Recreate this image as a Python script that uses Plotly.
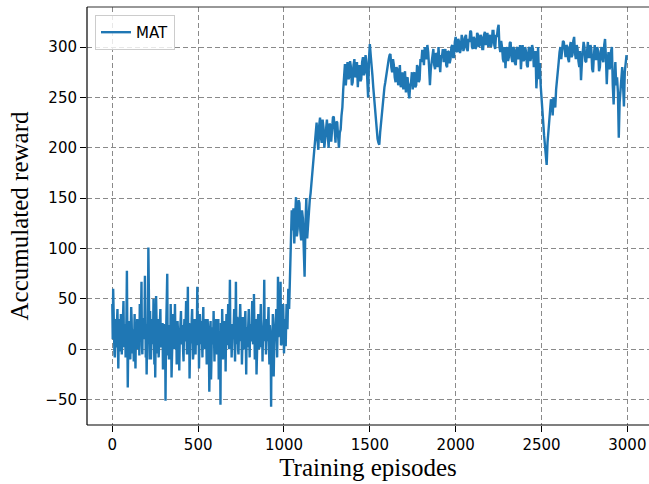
import plotly.graph_objects as go

# Early phase: readings every 5 episodes plus in-between readings (offset 2.5)
episodes_early = list(range(0, 1050, 5))
episodes_early_mid = [e + 2.5 for e in episodes_early]
# Later phase: readings every 5 episodes
episodes_late = list(range(1050, 3000, 5))

reward_early = [
    45, 60, 12, -8, 30, 5, 40, -19, 22, 8,
    35, -5, 18, 48, 2, 25, 10, 78, -38, 15,
    28, -10, 42, 6, 20, -12, 35, -19, 12, 30,
    0, 22, 45, 8, 67, -5, 30, 15, 73, -8,
    -25, 18, 101, 10, 38, -10, 25, 5, 50, -15,
    -28, 53, 10, 30, -8, 20, 40, 2, 15, -20,
    25, 10, -51, 32, 75, 5, -10, 20, 45, -28,
    12, 35, 0, 45, 18, -15, 28, 8, -21, 20,
    38, 5, 22, -12, 30, 10, 48, -5, 62, 15,
    -29, 25, 8, 40, -10, 18, 30, -5, 12, 62,
    20, -19, 35, 5, 28, -8, 42, 12, 0, 25,
    -15, 30, 10, -42, 18, -30, 22, 5, 38, -12,
    15, 30, -5, 25, -30, 10, -55, 20, 40, -10,
    28, 5, -22, 35, 12, 45, 0, 69, 18, -8,
    25, 10, 40, -12, 67, 5, 30, -5, 20, 45,
    8, -15, 32, 15, 0, 38, -25, 22, 10, 40,
    -8, 25, 12, 48, 5, 55, -10, 30, -25, 18,
    35, 0, 22, 45, 10, -12, 28, 69, 15, -5,
    30, 8, 42, -15, 20, -57, 10, 35, -27, 25,
    12, 40, -8, 72, 18, 30, 67, 5, 22, 45,
    -4, 30, 3, 45, 20, 60, 40, 85, 110, 138,
]

reward_early_mid = [
    10, 25, -5, 18, 2, 28, 8, 15, 30, -2,
    20, 5, 28, 10, 22, -8, 32, 12, 0, 24,
    6, 18, 30, -4, 14, 26, 2, 20, 8, 16,
    28, -6, 12, 24, 4, 30, 10, 20, -2, 18,
    8, 26, 14, -10, 22, 6, 30, 16, 2, 24,
    12, 28, -4, 20, 10, 32, 4, 18, 26, 0,
    14, 22, 8, 30, -6, 16, 24, 2, 20, 10,
    28, 4, 18, 12, 26, -8, 22, 14, 6, 30,
    10, 24, -2, 18, 8, 28, 14, 20, 2, 26,
    16, 6, 30, 12, -4, 22, 10, 24, 18, 4,
    28, 8, 20, 14, -6, 26, 2, 18, 30, 10,
    12, 22, 4, 16, 28, -10, 18, 8, 24, 14,
    2, 20, 10, 30, 6, 18, 26, -2, 14, 22,
    8, 28, 16, 4, 24, 12, 30, 10, 20, 2,
    18, 26, 6, 22, 14, 32, 0, 16, 28, 8,
    20, 4, 24, 12, 28, 10, 18, 2, 26, 14,
    22, 8, 30, 16, 6, 24, 12, 20, 4, 28,
    10, 18, 26, 2, 22, 14, 30, 8, 20, 12,
    16, 28, 4, 24, 10, 18, 6, 26, 14, 22,
    30, 8, 20, 12, 28, 16, 4, 24, 10, 26,
    12, 18, 25, 35, 40, 50, 62, 95, 122, 130,
]

reward_late = [
    118, 140, 105, 132, 151, 112, 120, 148, 145, 118, 108, 138, 130, 100, 72, 125, 150, 110, 125, 140,
    148, 155, 165, 175, 185, 195, 202, 215, 225, 208, 198, 222, 230, 210, 205, 228, 220, 200, 210, 225,
    228, 212, 200, 224, 222, 206, 215, 230, 231, 210, 205, 226, 225, 212, 200, 215, 218, 232, 240, 258,
    275, 283, 262, 276, 285, 268, 270, 286, 280, 262, 265, 282, 288, 270, 272, 285, 260, 278, 282, 266,
    268, 285, 290, 272, 275, 292, 285, 268, 250, 288, 303, 292, 285, 272, 260, 248, 235, 224, 215, 209,
    205, 203, 215, 225, 236, 246, 255, 260, 265, 272, 280, 285, 288, 292, 293, 280, 275, 288, 282, 270,
    265, 280, 278, 262, 270, 282, 260, 272, 275, 258, 262, 276, 255, 268, 270, 255, 249, 262, 265, 275,
    258, 272, 275, 260, 262, 282, 280, 265, 268, 288, 285, 296, 296, 282, 300, 290, 288, 302, 295, 280,
    262, 278, 285, 296, 298, 282, 278, 294, 292, 280, 300, 286, 275, 292, 290, 298, 285, 295, 298, 282,
    280, 296, 295, 284, 288, 300, 302, 290, 290, 305, 310, 296, 295, 308, 305, 294, 298, 312, 308, 296,
    300, 310, 312, 298, 296, 308, 305, 316, 315, 300, 298, 310, 308, 298, 300, 314, 312, 300, 302, 312,
    310, 298, 298, 312, 315, 302, 305, 314, 300, 310, 312, 300, 304, 316, 316, 302, 298, 312, 310, 318,
    322, 300, 295, 306, 300, 288, 285, 300, 279, 296, 300, 286, 290, 304, 305, 290, 285, 300, 298, 284,
    282, 298, 300, 288, 290, 302, 278, 292, 302, 286, 288, 300, 295, 282, 280, 298, 300, 286, 290, 302,
    298, 280, 285, 296, 259, 275, 300, 268, 284, 262, 246, 238, 225, 212, 200, 192, 183, 205, 217, 226,
    237, 248, 245, 232, 250, 242, 240, 258, 270, 282, 285, 295, 300, 288, 295, 306, 305, 292, 290, 302,
    300, 288, 285, 300, 305, 290, 292, 306, 310, 294, 288, 302, 298, 286, 280, 296, 267, 284, 295, 305,
    300, 286, 285, 298, 305, 290, 290, 302, 298, 278, 275, 292, 302, 288, 288, 300, 295, 276, 280, 296,
    300, 288, 285, 302, 308, 290, 263, 285, 295, 278, 280, 296, 300, 262, 243, 270, 285, 262, 270, 255,
    210, 245, 260, 278, 280, 262, 241, 275, 285, 292,
]

x_ticks = [0, 500, 1000, 1500, 2000, 2500, 3000]
y_ticks = [-50, 0, 50, 100, 150, 200, 250, 300]

early = sorted(zip(episodes_early + episodes_early_mid, reward_early + reward_early_mid))
episodes = [e for e, _ in early] + episodes_late
rewards = [r for _, r in early] + reward_late

fig = go.Figure()
fig.add_trace(go.Scatter(
    x=episodes, y=rewards, mode="lines", name="MAT",
    line=dict(color="#1f77b4", width=2.4),
))

tick_font = dict(family="DejaVu Sans", size=15, color="black")
title_font = dict(family="Liberation Serif", size=25, color="black")
axis_style = dict(showgrid=True, gridcolor="#8a8a8a", gridwidth=1, griddash="5px,3px",
                  zeroline=False, showline=False,
                  ticks="outside", ticklen=6, tickwidth=1.2, tickcolor="black",
                  tickfont=tick_font)

spine = dict(color="black", width=1.2)
fig.update_layout(
    width=649, height=484,
    margin=dict(l=87, r=0, t=7, b=59),
    paper_bgcolor="white", plot_bgcolor="white",
    showlegend=True,
    legend=dict(x=0.0142, y=0.981, xanchor="left", yanchor="top",
                bordercolor="#cccccc", borderwidth=1,
                bgcolor="rgba(255,255,255,0.8)",
                font=dict(family="DejaVu Sans", size=15, color="black")),
    xaxis=dict(range=[-147.4, 3126], tickvals=x_ticks,
               title=dict(text="Training episodes", font=title_font, standoff=5),
               **axis_style),
    yaxis=dict(range=[-75.1, 339.7], tickvals=y_ticks,
               title=dict(text="Accumulated reward", font=title_font, standoff=9),
               **axis_style),
    shapes=[
        dict(type="line", xref="paper", yref="paper", x0=0, x1=1, y0=1, y1=1,
             line=dict(color="#333333", width=1.2), layer="above"),
        dict(type="line", xref="paper", yref="paper", x0=0, x1=1, y0=0, y1=0,
             line=spine, layer="above"),
        dict(type="line", xref="paper", yref="paper", x0=0, x1=0, y0=0, y1=1,
             line=spine, layer="above"),
    ],
)

fig.write_html("out.html")
